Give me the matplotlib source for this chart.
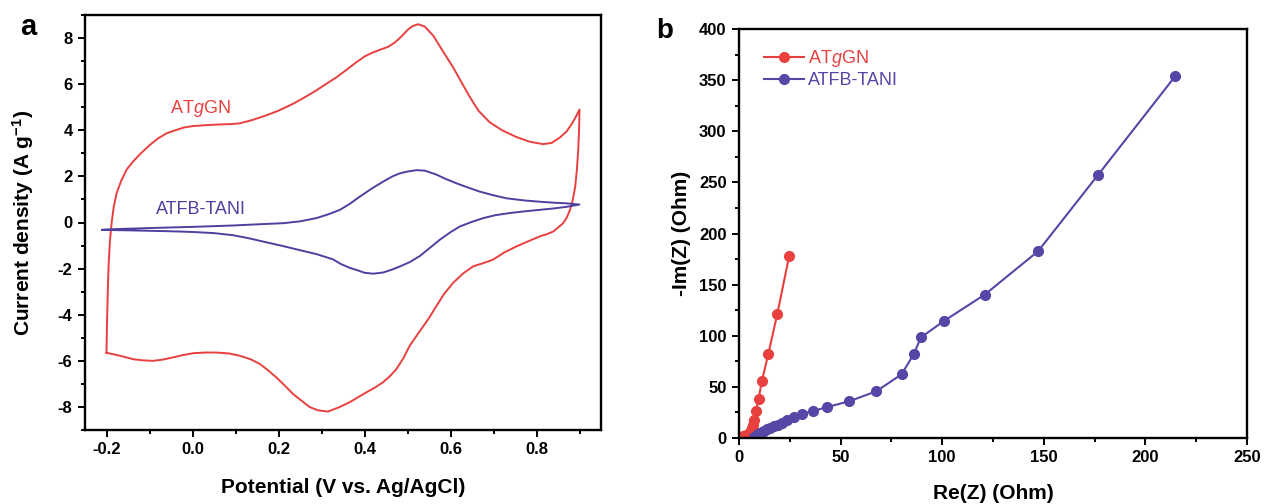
import matplotlib
matplotlib.use("Agg")
import matplotlib.pyplot as plt
from matplotlib.ticker import MultipleLocator, FormatStrFormatter

plt.rcParams["font.family"] = ["Liberation Sans", "DejaVu Sans"]
plt.rcParams["axes.unicode_minus"] = False
plt.rcParams["mathtext.fontset"] = "custom"
plt.rcParams["mathtext.rm"] = "Liberation Sans"
plt.rcParams["mathtext.it"] = "Liberation Sans:italic"
plt.rcParams["mathtext.bf"] = "Liberation Sans:bold"

RED = "#E8403F"
BLUE_A = "#4E40A0"
BLUE_B = "#5646A6"

# ---- (a) cyclic voltammograms: potential (V) and current density (A/g)
atggn_fwd_v = [-0.2, -0.199, -0.197, -0.195, -0.192, -0.188, -0.183, -0.176, -0.166,
               -0.153, -0.138, -0.12, -0.1, -0.08, -0.06, -0.04, -0.02, 0.0, 0.03,
               0.06, 0.09, 0.11, 0.14, 0.172, 0.2, 0.234, 0.26, 0.288, 0.31, 0.335,
               0.36, 0.381, 0.4, 0.42, 0.44, 0.455, 0.47, 0.485, 0.5, 0.512, 0.525,
               0.54, 0.56, 0.58, 0.606, 0.625, 0.645, 0.665, 0.691, 0.72, 0.753,
               0.785, 0.815, 0.835, 0.854, 0.87, 0.881, 0.892, 0.9]
atggn_fwd_i = [-5.65, -4.5, -3.0, -1.8, -0.8, 0.0, 0.7, 1.3, 1.8,
               2.3, 2.65, 3.0, 3.35, 3.65, 3.87, 4.0, 4.12, 4.18, 4.22,
               4.25, 4.27, 4.3, 4.45, 4.65, 4.85, 5.15, 5.42, 5.73, 6.0, 6.3,
               6.65, 6.95, 7.2, 7.38, 7.52, 7.62, 7.8, 8.05, 8.35, 8.52, 8.6,
               8.5, 8.1, 7.5, 6.73, 6.1, 5.44, 4.85, 4.35, 4.0, 3.71,
               3.5, 3.4, 3.45, 3.68, 3.95, 4.25, 4.6, 4.9]
atggn_rev_v = [0.9, 0.899, 0.897, 0.894, 0.89, 0.884, 0.878, 0.87, 0.862, 0.85,
               0.839, 0.825, 0.808, 0.78, 0.753, 0.725, 0.699, 0.675, 0.653, 0.63,
               0.606, 0.585, 0.567, 0.548, 0.529, 0.505, 0.49, 0.474, 0.46, 0.443,
               0.425, 0.405, 0.385, 0.366, 0.34, 0.315, 0.293, 0.273, 0.255, 0.234,
               0.215, 0.195, 0.175, 0.157, 0.135, 0.11, 0.085, 0.056, 0.03, 0.001,
               -0.025, -0.045, -0.07, -0.092, -0.115, -0.138, -0.16, -0.185, -0.2]
atggn_rev_i = [4.9, 4.0, 3.14, 2.3, 1.55, 0.95, 0.55, 0.2, -0.03, -0.22,
               -0.39, -0.5, -0.6, -0.82, -1.04, -1.3, -1.61, -1.77, -1.9, -2.2,
               -2.62, -3.1, -3.63, -4.2, -4.7, -5.35, -5.9, -6.36, -6.65, -6.93,
               -7.15, -7.36, -7.58, -7.79, -8.02, -8.2, -8.15, -8.01, -7.75, -7.44,
               -7.08, -6.72, -6.4, -6.14, -5.93, -5.78, -5.68, -5.64, -5.64, -5.67,
               -5.76, -5.85, -5.95, -6.0, -5.98, -5.93, -5.82, -5.71, -5.65]

atfb_fwd_v = [-0.21, -0.2, -0.1, 0.0, 0.094, 0.15, 0.211, 0.25, 0.288, 0.315,
              0.343, 0.365, 0.389, 0.415, 0.443, 0.465, 0.482, 0.5, 0.521, 0.54,
              0.567, 0.59, 0.614, 0.64, 0.668, 0.7, 0.73, 0.77, 0.808, 0.84,
              0.87, 0.9]
atfb_fwd_i = [-0.32, -0.3, -0.24, -0.19, -0.13, -0.08, -0.03, 0.05, 0.19, 0.35,
              0.55, 0.8, 1.12, 1.45, 1.77, 2.0, 2.13, 2.21, 2.27, 2.25,
              2.08, 1.88, 1.7, 1.52, 1.34, 1.18, 1.05, 0.96, 0.9, 0.86,
              0.83, 0.78]
atfb_rev_v = [0.9, 0.87, 0.84, 0.808, 0.77, 0.738, 0.705, 0.676, 0.65, 0.622,
              0.6, 0.575, 0.552, 0.529, 0.505, 0.483, 0.463, 0.443, 0.42, 0.4,
              0.385, 0.366, 0.345, 0.327, 0.29, 0.25, 0.21, 0.172, 0.13, 0.094,
              0.05, 0.0, -0.05, -0.1, -0.15, -0.21]
atfb_rev_i = [0.78, 0.68, 0.61, 0.55, 0.48, 0.41, 0.32, 0.19, 0.03, -0.17,
              -0.42, -0.75, -1.1, -1.45, -1.72, -1.9, -2.05, -2.17, -2.22, -2.18,
              -2.08, -1.97, -1.8, -1.6, -1.38, -1.2, -1.02, -0.86, -0.68, -0.55,
              -0.46, -0.41, -0.38, -0.36, -0.34, -0.32]

# ---- (b) Nyquist plots: Re(Z) and -Im(Z) in Ohm
atggn_re = [0.5, 1.2, 2.0, 2.8, 3.5, 4.2, 4.8, 5.3, 5.8, 6.3, 6.8, 7.3, 8.2,
            9.6, 11.3, 14.4, 18.8, 24.7]
atggn_im = [0.8, 1.2, 1.6, 2.1, 2.7, 3.4, 4.3, 5.5, 7.2, 9.5, 12.7, 17.5, 26,
            38, 56, 82, 121, 178]
atfb_re = [7.5, 8.3, 9.2, 10.2, 11.3, 12.5, 13.8, 15.3, 17.0, 19.0, 21.3, 23.8,
           26.9, 31.0, 36.4, 43.5, 54.2, 67.6, 80.0, 86.0, 89.5, 100.9, 121.0,
           147.2, 176.5, 214.7]
atfb_im = [0.5, 2.0, 3.5, 4.8, 6.0, 7.2, 8.5, 9.8, 11.3, 13.0, 15.0, 17.5,
           20.6, 23.5, 26.4, 30.3, 35.9, 45.7, 62.3, 81.9, 98.3, 114.5, 140.3,
           182.7, 256.8, 353.9]

W, H = 1265, 504
fig = plt.figure(figsize=(W / 100, H / 100), dpi=100)


def frac(x0, y0, x1, y1):
    return [x0 / W, 1 - y1 / H, (x1 - x0) / W, (y1 - y0) / H]


def style_axes(ax):
    for s in ax.spines.values():
        s.set_linewidth(1.7)
    ax.tick_params(which="both", direction="out", width=1.4, labelsize=12,
                   top=False, right=False, pad=4)
    ax.tick_params(which="major", length=5)
    ax.tick_params(which="minor", length=3)
    for lab in ax.get_xticklabels() + ax.get_yticklabels():
        lab.set_fontweight("bold")


# panel a
axa = fig.add_axes(frac(85, 15, 601, 430))
axa.plot(atggn_fwd_v + atggn_rev_v, atggn_fwd_i + atggn_rev_i, color=RED, lw=1.4)
axa.plot(atfb_fwd_v + atfb_rev_v, atfb_fwd_i + atfb_rev_i, color=BLUE_A, lw=1.4)
axa.set_xlim(-0.25, 0.95)
axa.set_ylim(-9, 9)
axa.xaxis.set_major_locator(MultipleLocator(0.2))
axa.xaxis.set_minor_locator(MultipleLocator(0.1))
axa.yaxis.set_major_locator(MultipleLocator(2))
axa.yaxis.set_minor_locator(MultipleLocator(1))
axa.xaxis.set_major_formatter(FormatStrFormatter("%.1f"))
style_axes(axa)
axa.set_xlabel("Potential (V vs. Ag/AgCl)", fontsize=15, fontweight="bold", labelpad=15)
axa.set_ylabel(r"Current density (A g$^{\mathbf{-1}}$)", fontsize=15,
               fontweight="bold", labelpad=16)
axa.text(0.019, 4.95, r"AT$\mathit{g}$GN", color=RED, fontsize=13,
         ha="center", va="center")
axa.text(0.019, 0.55, "ATFB-TANI", color=BLUE_A, fontsize=13,
         ha="center", va="center")
fig.text(28 / W, 1 - 27 / H, "a", fontsize=21, fontweight="bold", ha="center", va="center")

# panel b
axb = fig.add_axes(frac(739, 29, 1247, 438))
axb.plot(atggn_re, atggn_im, "-o", color=RED, lw=1.5, ms=7, label=r"AT$\mathit{g}$GN")
axb.plot(atfb_re, atfb_im, "-o", color=BLUE_B, lw=1.5, ms=7, label="ATFB-TANI")
axb.set_xlim(0, 250)
axb.set_ylim(0, 400)
axb.xaxis.set_major_locator(MultipleLocator(50))
axb.xaxis.set_minor_locator(MultipleLocator(25))
axb.yaxis.set_major_locator(MultipleLocator(50))
axb.yaxis.set_minor_locator(MultipleLocator(25))
style_axes(axb)
axb.set_xlabel("Re(Z) (Ohm)", fontsize=15, fontweight="bold", labelpad=13)
axb.set_ylabel("-Im(Z) (Ohm)", fontsize=15, fontweight="bold", labelpad=6)
leg = axb.legend(loc="upper left", frameon=False, fontsize=13, handlelength=2.2,
                 handletextpad=0.25, labelspacing=0.15, borderaxespad=0.0,
                 bbox_to_anchor=(0.035, 0.97))
for txt, col in zip(leg.get_texts(), [RED, BLUE_B]):
    txt.set_color(col)
fig.text(665 / W, 1 - 31 / H, "b", fontsize=20, fontweight="bold", ha="center", va="center")

fig.savefig("out.png", dpi=100)
